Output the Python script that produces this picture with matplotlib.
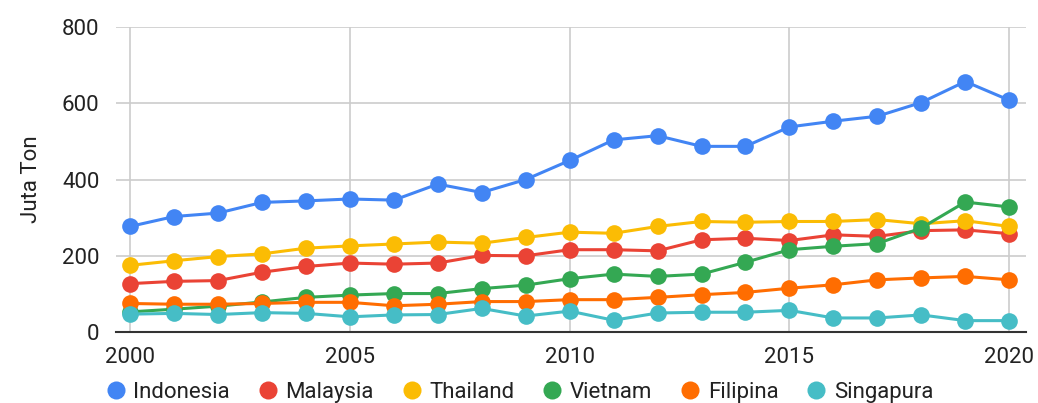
import matplotlib
matplotlib.use("Agg")
import matplotlib.pyplot as plt
from matplotlib.lines import Line2D

plt.rcParams['font.family'] = ['Roboto', 'DejaVu Sans']

# Data (juta ton)
tahun = list(range(2000, 2021))
indonesia = [277, 303, 312, 340, 344, 349, 346, 388, 366, 400, 450, 504, 515, 487, 487, 538, 553, 566, 602, 657, 608]
malaysia = [127, 133, 135, 157, 172, 181, 178, 181, 201, 200, 216, 216, 213, 242, 246, 240, 255, 251, 266, 268, 258]
thailand = [175, 187, 198, 205, 220, 226, 231, 236, 233, 248, 262, 259, 277, 290, 288, 290, 290, 295, 284, 292, 277]
vietnam = [53, 60, 68, 79, 91, 97, 101, 101, 114, 123, 140, 152, 146, 152, 183, 216, 225, 232, 273, 341, 328]
filipina = [75, 73, 73, 75, 78, 78, 69, 73, 80, 80, 85, 85, 91, 98, 104, 115, 124, 137, 142, 146, 137]
singapura = [47, 49, 46, 51, 49, 40, 45, 46, 62, 42, 55, 31, 50, 52, 52, 57, 37, 37, 45, 30, 30]

series = [
    ('Indonesia', indonesia, '#4285F4'),
    ('Malaysia', malaysia, '#EA4335'),
    ('Thailand', thailand, '#FBBC04'),
    ('Vietnam', vietnam, '#34A853'),
    ('Filipina', filipina, '#FF6D01'),
    ('Singapura', singapura, '#46BDC6'),
]

fig = plt.figure(figsize=(10.38, 4.03), dpi=100)
ax = fig.add_axes([0.1118, 0.176, 0.877, 0.757])

for nama, nilai, warna in series:
    ax.plot(tahun, nilai, color=warna, linewidth=2.2, marker='o',
            markersize=12, markeredgewidth=0, label=nama, zorder=3)

ax.set_xlim(1999.68, 2020.39)
ax.set_ylim(0, 800)
ax.set_xticks([2000, 2005, 2010, 2015, 2020])
ax.set_yticks([0, 200, 400, 600, 800])
ax.tick_params(axis='both', length=0, labelsize=16, colors='#222222')
ax.tick_params(axis='x', pad=11)
ax.tick_params(axis='y', pad=12)

ax.grid(True, color='#cccccc', linewidth=1.2, zorder=0)
for s in ['top', 'right', 'left']:
    ax.spines[s].set_visible(False)
ax.spines['bottom'].set_color('#333333')
ax.spines['bottom'].set_linewidth(1.5)
ax.spines['bottom'].set_zorder(2)

ax.set_ylabel('Juta Ton', fontsize=16, color='#222222', labelpad=14)

handles = [Line2D([], [], linestyle='none', marker='o', markersize=13,
                  markeredgewidth=0, color=w) for _, _, w in series]
fig.legend(handles, [n for n, _, _ in series], loc='center',
           bbox_to_anchor=(0.5, 0.027), ncol=6, frameon=False, fontsize=16,
           handletextpad=0.3, columnspacing=1.2, handlelength=1.0,
           labelcolor='#222222')

fig.savefig('out.png', dpi=100, facecolor='white')
